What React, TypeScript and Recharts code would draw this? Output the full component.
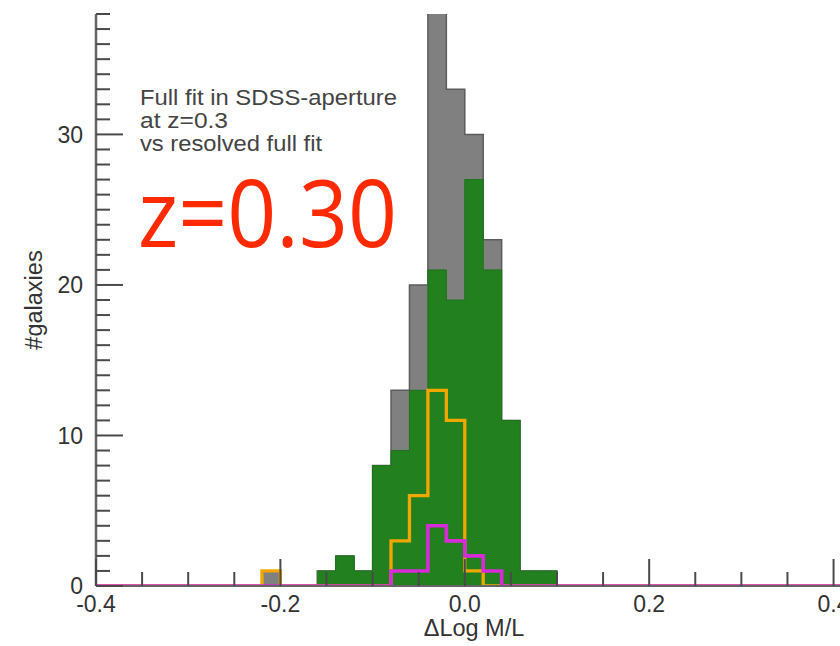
import React from 'react';
import { ComposedChart, Area, Line, XAxis, YAxis } from 'recharts';

// Histogram bins (left edge of each 0.02-wide bin), plus the axis ends
const binStart = [-0.4, -0.22, -0.2, -0.18, -0.16, -0.14, -0.12, -0.1, -0.08, -0.06, -0.04, -0.02, 0, 0.02, 0.04, 0.06, 0.08, 0.1, 0.42];
const allCounts = [null, 1, 0, 0, 1, 2, 1, 8, 13, 20, 42, 33, 30, 23, 11, 1, 1, 0, null];
const greenCounts = [null, null, null, null, 1, 2, 1, 8, 9, 13, 21, 19, 27, 21, 11, 1, 1, 0, null];
const orangeCounts = [0, 1, 0, 0, 0, 0, 0, 0, 3, 6, 13, 11, 1, 0, 0, 0, 0, 0, 0];
const magentaCounts = [0, 0, 0, 0, 0, 0, 0, 0, 1, 1, 4, 3, 2, 1, 0, 0, 0, 0, 0];

const xTicks = [-0.4, -0.35, -0.3, -0.25, -0.2, -0.15, -0.1, -0.05, 0, 0.05, 0.1, 0.15, 0.2, 0.25, 0.3, 0.35, 0.4];
const xMajorLabels: Record<string, string> = { '-0.4': '-0.4', '-0.2': '-0.2', '0': '0.0', '0.2': '0.2', '0.4': '0.4' };
const yTicks = Array.from({ length: 39 }, (_, i) => i);
const yMajorLabels: Record<string, string> = { '0': '0', '10': '10', '20': '20', '30': '30' };

const annotationLines = ['Full fit in SDSS-aperture', 'at z=0.3', 'vs resolved full fit'];
const redLabel = 'z=0.30';
const xTitle = '\u0394Log M/L';
const yTitle = '#galaxies';

const data = binStart.map((x, i) => ({
  x,
  all: allCounts[i],
  green: greenCounts[i],
  orange: orangeCounts[i],
  magenta: magentaCounts[i],
}));

const TICK_COLOR = '#4a4a4a';
const LABEL_FONT = '"Liberation Sans", Arial, Helvetica, sans-serif';
const X_DOMAIN: [number, number] = [-0.4, 0.42];
const Y_DOMAIN: [number, number] = [0, 38];
const MARGIN = { top: 14, right: 8, bottom: 0, left: 0 };

const isXMajor = (v: number) => Math.abs(v * 5 - Math.round(v * 5)) < 1e-6;
const isYMajor = (v: number) => v % 10 === 0;

const BottomTick = (props: any) => {
  const { x, y, payload } = props;
  const v = payload.value as number;
  const major = isXMajor(v);
  const key = String(Math.round(v * 100) / 100);
  return (
    <g>
      <line x1={x} x2={x} y1={y} y2={y - (major ? 27 : 14)} stroke={TICK_COLOR} strokeWidth={2} />
      {major && (
        <text x={x} y={y + 26} textAnchor="middle" fontSize={23} fill="#333" fontFamily={LABEL_FONT}>
          {xMajorLabels[key]}
        </text>
      )}
    </g>
  );
};

const TopTick = (props: any) => {
  const { x, y, payload } = props;
  const major = isXMajor(payload.value);
  return <line x1={x} x2={x} y1={y} y2={y + (major ? 27 : 14)} stroke={TICK_COLOR} strokeWidth={2} />;
};

const LeftTick = (props: any) => {
  const { x, y, payload } = props;
  const v = payload.value as number;
  const major = isYMajor(v);
  return (
    <g>
      <line x1={x} x2={x + (major ? 27 : 14)} y1={y} y2={y} stroke={TICK_COLOR} strokeWidth={2} />
      {major && (
        <text x={x - 13} y={y} dy="0.36em" textAnchor="end" fontSize={23} fill="#333" fontFamily={LABEL_FONT}>
          {yMajorLabels[String(v)]}
        </text>
      )}
    </g>
  );
};

const RightTick = (props: any) => {
  const { x, y, payload } = props;
  const major = isYMajor(payload.value);
  return <line x1={x} x2={x - (major ? 27 : 14)} y1={y} y2={y} stroke={TICK_COLOR} strokeWidth={2} />;
};

// Axes: drawn invisibly in the series chart (to reserve identical space),
// and visibly in an overlay chart so ticks sit on top of the bars.
function renderAxes(visible: boolean) {
  const line = (w: number) => (visible ? { stroke: '#666', strokeWidth: w } : false);
  return [
    <XAxis
      key="xb"
      xAxisId="bottom"
      dataKey="x"
      type="number"
      domain={X_DOMAIN}
      ticks={xTicks}
      interval={0}
      tickSize={0}
      tickMargin={0}
      tickLine={false}
      tick={visible ? BottomTick : false}
      height={60}
      axisLine={line(2)}
    />,
    <XAxis
      key="xt"
      xAxisId="top"
      orientation="top"
      dataKey="x"
      type="number"
      domain={X_DOMAIN}
      ticks={xTicks}
      interval={0}
      tickSize={0}
      tickMargin={0}
      tickLine={false}
      tick={visible ? TopTick : false}
      height={0}
      axisLine={line(2.5)}
    />,
    <YAxis
      key="yl"
      yAxisId="left"
      type="number"
      domain={Y_DOMAIN}
      allowDataOverflow
      ticks={yTicks}
      interval={0}
      tickSize={0}
      tickMargin={0}
      tickLine={false}
      tick={visible ? LeftTick : false}
      width={96}
      axisLine={line(2.5)}
    />,
    <YAxis
      key="yr"
      yAxisId="right"
      orientation="right"
      type="number"
      domain={Y_DOMAIN}
      allowDataOverflow
      ticks={yTicks}
      interval={0}
      tickSize={0}
      tickMargin={0}
      tickLine={false}
      tick={visible ? RightTick : false}
      width={0}
      axisLine={line(2.5)}
    />,
  ];
}

export default function App() {
  return (
    <div style={{ position: 'absolute', left: 0, top: 0, width: 840, height: 646, overflow: 'hidden', background: '#fff' }}>
      <ComposedChart width={860} height={646} data={data} margin={MARGIN}>
        {renderAxes(false)}
        <Area
          xAxisId="bottom"
          yAxisId="left"
          type="stepAfter"
          dataKey="all"
          fill="#808080"
          fillOpacity={1}
          stroke="#5c5c5c"
          strokeWidth={1.5}
          isAnimationActive={false}
          dot={false}
          activeDot={false}
        />
        <Area
          xAxisId="bottom"
          yAxisId="left"
          type="stepAfter"
          dataKey="green"
          fill="#22801f"
          fillOpacity={1}
          stroke="#1e721c"
          strokeWidth={1}
          isAnimationActive={false}
          dot={false}
          activeDot={false}
        />
        <Line
          xAxisId="bottom"
          yAxisId="left"
          type="stepAfter"
          dataKey="orange"
          stroke="#f2a600"
          strokeWidth={3.3}
          strokeLinejoin="miter"
          isAnimationActive={false}
          dot={false}
          activeDot={false}
        />
        <Line
          xAxisId="top"
          yAxisId="right"
          type="stepAfter"
          dataKey="magenta"
          stroke="#d82ad8"
          strokeWidth={3.6}
          strokeLinejoin="miter"
          isAnimationActive={false}
          dot={false}
          activeDot={false}
        />
      </ComposedChart>
      <div style={{ position: 'absolute', left: 0, top: 0, pointerEvents: 'none' }}>
        <ComposedChart width={860} height={646} data={data} margin={MARGIN}>
          {renderAxes(true)}
          <Line xAxisId="bottom" yAxisId="left" dataKey="magenta" stroke="none" dot={false} activeDot={false} isAnimationActive={false} />
          <Line xAxisId="top" yAxisId="right" dataKey="magenta" stroke="none" dot={false} activeDot={false} isAnimationActive={false} />
        </ComposedChart>
      </div>
      <svg width={840} height={646} style={{ position: 'absolute', left: 0, top: 0, pointerEvents: 'none' }}>
        {annotationLines.map((t, i) => (
          <text
            key={t}
            x={140}
            y={[105, 127.5, 150.5][i]}
            fontSize={22.5}
            fill="#444"
            fontFamily={LABEL_FONT}
            textLength={[257, 88, 182][i]}
            lengthAdjust="spacingAndGlyphs"
          >
            {t}
          </text>
        ))}
        <text x={138} y={247} fontSize={94} fontWeight={500} fill="#ff2a00" fontFamily='"Open Sans", "Noto Sans", sans-serif' textLength={259} lengthAdjust="spacingAndGlyphs">
          {redLabel}
        </text>
        <text x={474} y={636} textAnchor="middle" fontSize={23.5} fill="#333" fontFamily={LABEL_FONT}>
          {xTitle}
        </text>
        <text x={42} y={300} transform="rotate(-90 42 300)" textAnchor="middle" fontSize={23.5} fill="#333" fontFamily={LABEL_FONT}>
          {yTitle}
        </text>
      </svg>
    </div>
  );
}
